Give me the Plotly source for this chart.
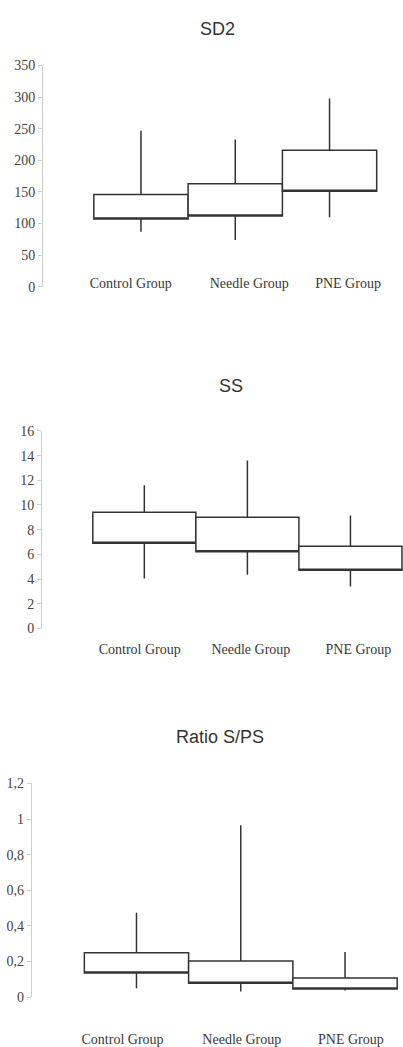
import plotly.graph_objects as go

# ---------------- data ----------------
groups = ["Control Group", "Needle Group", "PNE Group"]

sd2_low = [87, 74, 110]
sd2_q1 = [107, 112, 151]
sd2_q3 = [146, 163, 216]
sd2_high = [247, 233, 298]

ss_low = [4.05, 4.35, 3.4]
ss_q1 = [6.9, 6.2, 4.7]
ss_q3 = [9.4, 9.0, 6.65]
ss_high = [11.6, 13.6, 9.15]

ratio_low = [0.05, 0.031, 0.037]
ratio_q1 = [0.135, 0.078, 0.046]
ratio_q3 = [0.249, 0.203, 0.107]
ratio_high = [0.474, 0.965, 0.253]

titles = ["SD2", "SS", "Ratio S/PS"]

# ---------------- layout helpers ----------------
W, H = 403, 1047
LINE = "#333333"
AXIS = "#cfcfcf"

panels = [
    dict(low=sd2_low, q1=sd2_q1, q3=sd2_q3, high=sd2_high,
         xdom=43, xr=[-1.039, 2.779], ytop=59.5, ybot=284, yr=[0, 350], dtick=50,
         lab_off=[-0.108, 0.148, 0.196], standoff=-14, title_xy=(217, 22)),
    dict(low=ss_low, q1=ss_q1, q3=ss_q3, high=ss_high,
         xdom=42, xr=[-0.993, 2.51], ytop=430.5, ybot=631, yr=[0, 16], dtick=2,
         lab_off=[-0.045, 0.034, 0.077], standoff=11, title_xy=(230.7, 385)),
    dict(low=ratio_low, q1=ratio_q1, q3=ratio_q3, high=ratio_high,
         xdom=31.7, xr=[-1.005, 2.556], ytop=788.5, ybot=1005.5, yr=[0, 1.2], dtick=0.2,
         lab_off=[-0.134, 0.01, 0.056], standoff=32, title_xy=(220.3, 741.7)),
]

fig = go.Figure()
layout = {}
annotations = []

for i, p in enumerate(panels, start=1):
    xa = "x" if i == 1 else f"x{i}"
    ya = "y" if i == 1 else f"y{i}"
    pos = list(range(len(groups)))
    fig.add_trace(go.Box(
        x=pos,
        q1=p["q1"], median=p["q1"], q3=p["q3"],
        lowerfence=p["low"], upperfence=p["high"],
        width=1, whiskerwidth=0, boxpoints=False,
        fillcolor="white", line=dict(color=LINE, width=1.5),
        showlegend=False, hoverinfo="skip",
        xaxis=xa, yaxis=ya,
    ))
    xkey = "xaxis" if i == 1 else f"xaxis{i}"
    ykey = "yaxis" if i == 1 else f"yaxis{i}"
    layout[xkey] = dict(
        domain=[p["xdom"] / W, 1], range=p["xr"], anchor=ya,
        type="linear", showline=False, showgrid=False, zeroline=False,
        ticks="", tickvals=[k + o for k, o in zip(pos, p["lab_off"])],
        ticktext=groups, ticklabelstandoff=p["standoff"],
        tickfont=dict(family="Liberation Serif", size=14, color="#3a3a3a"),
    )
    layout[ykey] = dict(
        domain=[(H - p["ybot"]) / H, (H - p["ytop"]) / H], range=p["yr"],
        anchor=xa, dtick=p["dtick"], tick0=0,
        showline=True, linecolor=AXIS, linewidth=1,
        ticks="outside", ticklen=4, tickcolor=AXIS,
        showgrid=False, zeroline=False,
        tickfont=dict(family="Liberation Serif", size=14, color="#4a4040"),
    )
    tx, ty = p["title_xy"]
    annotations.append(dict(
        text=titles[i - 1], x=tx / W, y=1 - ty / H, xref="paper", yref="paper",
        xanchor="center", yanchor="middle", showarrow=False,
        font=dict(family="Liberation Sans", size=18, color="#333333"),
    ))

fig.update_layout(
    width=W, height=H, autosize=False,
    margin=dict(l=0, r=0, t=0, b=0),
    paper_bgcolor="white", plot_bgcolor="white",
    separators=",.",
    annotations=annotations,
    **layout,
)

fig.write_html("out.html")
